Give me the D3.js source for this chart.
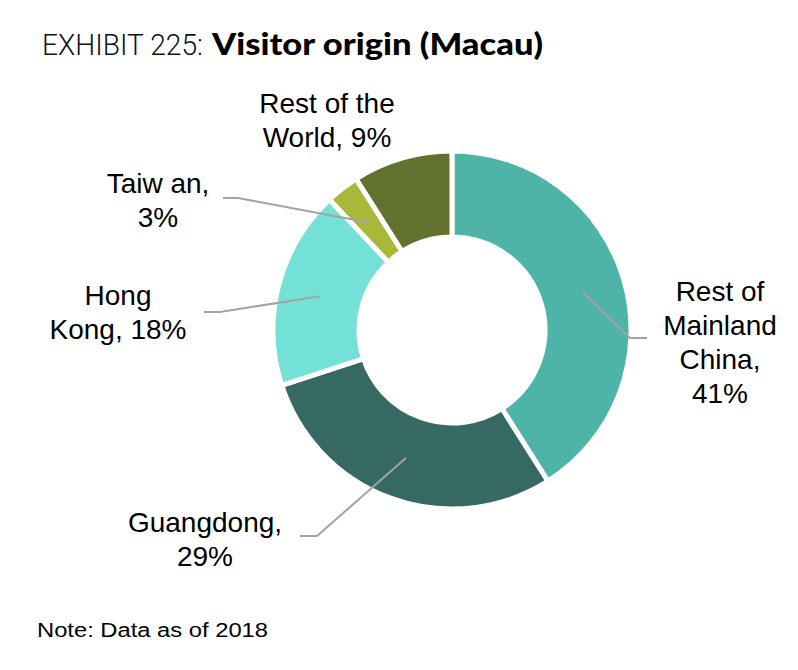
<!DOCTYPE html>
<html>
<head>
<meta charset="utf-8">
<script src="https://cdn.jsdelivr.net/npm/d3@7/dist/d3.min.js"></script>
<style>
  html, body { margin: 0; padding: 0; background: #fff; }
  svg { display: block; }
</style>
</head>
<body>
<svg id="chart" width="798" height="670"></svg>
<script>
// Visitor origin shares, clockwise from 12 o'clock
const categories = ["Rest of Mainland China", "Guangdong", "Hong Kong", "Taiwan", "Rest of the World"];
const shares = [41, 29, 18, 3, 9];
const colors = ["#4DB4A7", "#356961", "#73E1D5", "#A9B838", "#63712E"];
const labelLines = [
  ["Rest of", "Mainland", "China,", "41%"],
  ["Guangdong,", "29%"],
  ["Hong", "Kong, 18%"],
  ["Taiw an,", "3%"],
  ["Rest of the", "World, 9%"]
];

// label placement: text anchor point, first baseline, and leader elbow/end (null = no leader)
const labelLayout = [
  { x: 720, y: 301, elbow: [630, 338], end: [647, 338] },
  { x: 205, y: 532, elbow: [317, 536], end: [300, 536] },
  { x: 118, y: 305, elbow: [220, 312], end: [204, 312] },
  { x: 158, y: 193, elbow: [238, 198], end: [223, 198] },
  { x: 327, y: 113, elbow: null, end: null }
];

const svg = d3.select("#chart");
const cx = 452, cy = 330, outerR = 179, innerR = 93;

// Title
const title = svg.append("text").attr("y", 55);
title.append("tspan")
  .attr("x", 42)
  .attr("font-family", "Roboto, 'DejaVu Sans'")
  .attr("font-weight", 300)
  .attr("font-size", 29)
  .attr("textLength", 161)
  .attr("lengthAdjust", "spacingAndGlyphs")
  .attr("fill", "#111")
  .text("EXHIBIT 225:");
title.append("tspan")
  .attr("x", 212)
  .attr("font-family", "Lato, 'DejaVu Sans'")
  .attr("font-weight", 900)
  .attr("font-size", 30)
  .attr("textLength", 331)
  .attr("lengthAdjust", "spacingAndGlyphs")
  .attr("fill", "#000")
  .text("Visitor origin (Macau)");

// Donut
const data = categories.map((c, i) => ({ name: c, value: shares[i], color: colors[i], lines: labelLines[i], layout: labelLayout[i] }));
const pie = d3.pie().value(d => d.value).sort(null);
const arc = d3.arc().innerRadius(innerR).outerRadius(outerR);
const arcs = pie(data);

const g = svg.append("g").attr("transform", `translate(${cx},${cy})`);
g.selectAll("path.slice")
  .data(arcs)
  .join("path")
  .attr("class", "slice")
  .attr("d", arc)
  .attr("fill", d => d.data.color)
  .attr("stroke", "#fff")
  .attr("stroke-width", 5)
  .attr("stroke-linejoin", "miter");

// Leader lines from each slice centroid
svg.selectAll("path.leader")
  .data(arcs.filter(d => d.data.layout.elbow))
  .join("path")
  .attr("class", "leader")
  .attr("fill", "none")
  .attr("stroke", "#A3A3A3")
  .attr("stroke-width", 2)
  .attr("d", d => {
    const c = arc.centroid(d);
    const L = d.data.layout;
    return d3.line()([[cx + c[0], cy + c[1]], L.elbow, L.end]);
  });

// Labels
const labels = svg.selectAll("text.lbl")
  .data(arcs)
  .join("text")
  .attr("class", "lbl")
  .attr("text-anchor", "middle")
  .attr("font-family", "'Liberation Sans', Arial, sans-serif")
  .attr("font-size", 28)
  .attr("fill", "#000");
labels.each(function(d) {
  const t = d3.select(this);
  d.data.lines.forEach((line, i) => {
    t.append("tspan")
      .attr("x", d.data.layout.x)
      .attr("y", d.data.layout.y + i * 34)
      .text(line);
  });
});

// Footnote
svg.append("text")
  .attr("x", 37)
  .attr("y", 637)
  .attr("font-family", "'Liberation Sans', Arial, sans-serif")
  .attr("font-size", 20)
  .attr("textLength", 231)
  .attr("lengthAdjust", "spacingAndGlyphs")
  .attr("fill", "#000")
  .text("Note: Data as of 2018");
</script>
</body>
</html>
